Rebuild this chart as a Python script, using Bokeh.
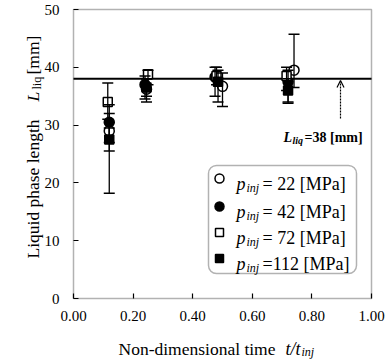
import math
from bokeh.plotting import figure
from bokeh.models import (Range1d, Whisker, TeeHead, ColumnDataSource, Label,
                          Arrow, OpenHead, BoxAnnotation, FixedTicker, NumeralTickFormatter)
from bokeh.embed import file_html
from bokeh.resources import INLINE

# ---------------- data ----------------
x_ticks = [0.0, 0.2, 0.4, 0.6, 0.8, 1.0]
y_ticks = [0, 10, 20, 30, 40, 50]
L_LIQ = 38

series_names = ["22", "42", "72", "112"]

t_22 = [0.12, 0.245, 0.50, 0.74]
L_22 = [29.0, 36.2, 36.7, 39.5]
lo_22 = [18.2, 34.0, 33.2, 36.5]
hi_22 = [32.0, 38.0, 39.0, 45.7]

t_42 = [0.12, 0.24, 0.475, 0.72]
L_42 = [30.5, 37.0, 38.3, 37.5]
lo_42 = [27.0, 34.5, 35.0, 34.0]
hi_42 = [33.5, 38.5, 40.0, 39.5]

t_72 = [0.115, 0.25, 0.48, 0.715]
L_72 = [34.0, 38.8, 38.5, 38.5]
lo_72 = [31.0, 37.0, 37.0, 36.0]
hi_72 = [37.3, 39.5, 40.0, 40.0]

t_112 = [0.12, 0.245, 0.485, 0.72]
L_112 = [27.5, 36.5, 37.5, 36.0]
lo_112 = [25.5, 35.0, 34.0, 33.8]
hi_112 = [29.5, 38.0, 39.5, 38.0]

SERIF = "Liberation Serif"

# ---------------- geometry (picture pixels) ----------------
W, H = 385, 361
PX_L, PX_R, PX_T, PX_B = 73, 371, 9, 298   # plot box in picture pixels
xs = (x_ticks[-1] - x_ticks[0]) / (PX_R - PX_L)
ys = (y_ticks[-1] - y_ticks[0]) / (PX_B - PX_T)
x_range = Range1d(x_ticks[0] - PX_L * xs, x_ticks[0] + (W - PX_L) * xs)
y_range = Range1d(y_ticks[0] - (H - PX_B) * ys, y_ticks[-1] + PX_T * ys)

p = figure(width=W, height=H, output_backend="svg", toolbar_location=None, title=None,
           x_range=x_range, y_range=y_range,
           min_border=0, min_border_left=0, min_border_right=0,
           min_border_top=0, min_border_bottom=0)
p.grid.visible = False
p.background_fill_color = "white"
p.outline_line_color = None

for ax in (p.xaxis[0], p.yaxis[0]):
    ax.fixed_location = 0
    ax.axis_line_color = None
    ax.major_tick_in = 5
    ax.major_tick_out = 0
    ax.minor_tick_line_color = None
    ax.major_tick_line_width = 1.2
    ax.major_label_text_font = SERIF
    ax.major_label_text_font_size = "15px"
    ax.major_label_text_color = "black"
p.xaxis.major_label_standoff = 12
p.yaxis.major_label_standoff = 14
p.xaxis.ticker = FixedTicker(ticks=x_ticks)
p.xaxis.formatter = NumeralTickFormatter(format="0.00")
p.yaxis.ticker = FixedTicker(ticks=y_ticks)

def px(xp):
    return x_ticks[0] + (xp - PX_L) * xs
def py(yp):
    return y_ticks[0] + (PX_B - yp) * ys

# plot box
p.add_layout(BoxAnnotation(left=x_ticks[0], right=x_ticks[-1], bottom=y_ticks[0], top=y_ticks[-1],
                           fill_alpha=0, line_color="black", line_width=1.5))

# reference line
p.segment(x0=[x_ticks[0]], x1=[x_ticks[-1]], y0=[L_LIQ], y1=[L_LIQ],
          line_color="black", line_width=2)

styles = [
    dict(marker="circle", fill_color="white", size=10),
    dict(marker="circle", fill_color="black", size=10),
    dict(marker="square", fill_color="white", size=9),
    dict(marker="square_x", fill_color="black", size=9),
]
data = [(t_22, L_22, lo_22, hi_22), (t_42, L_42, lo_42, hi_42),
        (t_72, L_72, lo_72, hi_72), (t_112, L_112, lo_112, hi_112)]

for (t, L, lo, hi) in data:
    src = ColumnDataSource(dict(t=t, L=L, lo=lo, hi=hi))
    p.add_layout(Whisker(source=src, base="t", upper="hi", lower="lo", dimension="height",
                         line_color="black", line_width=1.3,
                         upper_head=TeeHead(size=11, line_color="black", line_width=1.5),
                         lower_head=TeeHead(size=11, line_color="black", line_width=1.5),
                         level="glyph"))
for (t, L, lo, hi), st in zip(data, styles):
    src = ColumnDataSource(dict(t=t, L=L))
    p.scatter("t", "L", source=src, marker=st["marker"], size=st["size"],
              fill_color=st["fill_color"], line_color="black", line_width=1.5)

# arrow + annotation
p.add_layout(Arrow(x_start=px(340), y_start=py(118), x_end=px(340), y_end=L_LIQ - 0.3,
                   end=OpenHead(size=7, line_color="black", line_width=1.2),
                   line_color="black", line_width=1.2, line_dash="2 1"))

def lab(text, xp, yp, size, style="normal", angle=0.0):
    p.add_layout(Label(x=px(xp), y=py(yp), text=text, text_font=SERIF,
                       text_font_size=f"{size}px", text_font_style=style,
                       text_color="black", angle=angle, text_align="left",
                       text_baseline="alphabetic"))

lab("L", 283, 137, 14, "bold italic")
lab("liq", 292, 140, 10, "bold italic")
lab("=38 [mm]", 304, 137, 14, "bold")

# legend
p.add_layout(BoxAnnotation(left=px(208), right=px(356), top=py(165), bottom=py(273),
                           fill_color="white", fill_alpha=1, line_color="black",
                           line_width=1.5, border_radius=8, level="underlay"))
row_y = [178, 206, 232, 258]
for name, st, ry in zip(series_names, styles, row_y):
    p.scatter([px(219)], [py(ry)], marker=st["marker"], size=st["size"] - 1,
              fill_color=st["fill_color"], line_color="black", line_width=1.5)
    lab("p", 236, ry + 5, 18, "italic")
    lab("inj", 246, ry + 9, 12, "italic")
    rest = ("= " + name if len(name) == 2 else "=" + name) + " [MPa]"
    lab(rest, 262, ry + 5, 18)

# axis titles
lab("Non-dimensional time", 118, 348, 17.5)
lab("t/t", 285, 348, 18, "italic")
lab("inj", 301, 351, 12, "italic")

A = math.pi / 2
lab("Liquid phase length", 32, 258, 17.5, angle=A)
lab("L", 32, 101, 17.5, "italic", angle=A)
lab("liq", 36, 89, 12, angle=A)
lab("[mm]", 32, 74, 17.5, angle=A)

open("out.html", "w").write(file_html(p, INLINE))
